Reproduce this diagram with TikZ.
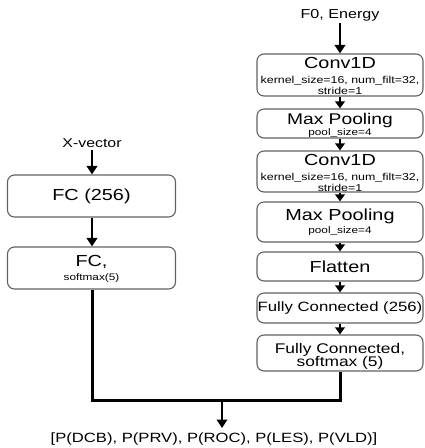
\documentclass[tikz,border=0pt]{standalone}
\usepackage{fontspec}
\setmainfont{Liberation Sans}[FakeStretch=1.24]
\usetikzlibrary{arrows.meta}
\newcommand\fsz[1]{\fontsize{#1}{#1}\selectfont}
\begin{document}
\begin{tikzpicture}[x=1pt,y=1pt,
  box/.style={draw=black!62, line width=1.1pt, rounded corners=7pt, inner sep=0pt, minimum width=166pt},
  lbox/.style={box, minimum width=168pt},
  bigarrow/.style={line width=2.8pt, -{Triangle[length=8.5pt,width=10.5pt]}},
  smallarrow/.style={line width=1.8pt, -{Triangle[length=7pt,width=9.5pt]}},
  merge/.style={line width=3pt},
  txt/.style={inner sep=0pt, anchor=base},
  lbl/.style={inner sep=2pt}]
\useasboundingbox (0,0) rectangle (424,-448);
% right column boxes
\node[box, minimum height=42pt] (conv1) at (340,-75) {};
\node[box, minimum height=29pt] (mp1) at (340,-123.5) {};
\node[box, minimum height=41pt] (conv2) at (340,-171.5) {};
\node[box, minimum height=40pt] (mp2) at (340,-222) {};
\node[box, minimum height=29pt, font=\fsz{16}] (flat) at (340,-266.5) {Flatten};
\node[box, minimum height=30pt, font=\fsz{13.5}] (fc256) at (340,-308) {Fully Connected (256)};
\node[box, minimum height=36pt] (fin) at (340,-353) {};
% right column texts
\node[lbl, font=\fsz{13}] (f0) at (340,-15) {F0, Energy};
\node[txt, font=\fsz{16}] at (340,-68) {Conv1D};
\node[txt, font=\fsz{10}] at (340,-83.5) {kernel\_size=16, num\_filt=32,};
\node[txt, font=\fsz{10}] at (340,-94) {stride=1};
\node[txt, font=\fsz{15.5}] at (340,-124.5) {Max Pooling};
\node[txt, font=\fsz{9.5}] at (340,-135) {pool\_size=4};
\node[txt, font=\fsz{16}] at (340,-165) {Conv1D};
\node[txt, font=\fsz{10}] at (340,-180.5) {kernel\_size=16, num\_filt=32,};
\node[txt, font=\fsz{10}] at (340,-191) {stride=1};
\node[txt, font=\fsz{16}] at (340,-220) {Max Pooling};
\node[txt, font=\fsz{9.5}] at (340,-233) {pool\_size=4};
\node[txt, font=\fsz{14}] at (340,-353.5) {Fully Connected,};
\node[txt, font=\fsz{14}] at (340,-366.5) {softmax (5)};
% left column
\node[lbl, font=\fsz{12.8}] (xv) at (92,-143) {X-vector};
\node[lbox, minimum height=42pt, font=\fsz{16}] (lfc1) at (91.5,-196) {FC (256)};
\node[lbox, minimum height=42pt] (lfc2) at (91.5,-268) {};
\node[txt, font=\fsz{16}] at (91.5,-266) {FC,};
\node[txt, font=\fsz{9.5}] at (91.5,-280) {softmax(5)};
% output
\coordinate (m) at (222,-400);
\coordinate (tip) at (222,-428);
\node[txt, font=\fsz{13.4}] (out) at (214,-442.5) {[P(DCB), P(PRV), P(ROC), P(LES), P(VLD)]};
% connectors
\draw[bigarrow] (f0) -- (conv1);
\draw[smallarrow] (conv1) -- (mp1);
\draw[smallarrow] (mp1) -- (conv2);
\draw[smallarrow] (conv2) -- (mp2);
\draw[smallarrow] (mp2) -- (flat);
\draw[smallarrow] (flat) -- (fc256);
\draw[smallarrow] (fc256) -- (fin);
\draw[bigarrow] (xv) -- (xv |- lfc1.north);
\draw[bigarrow] (lfc1.south -| xv) -- (xv |- lfc2.north);
\draw[merge] (lfc2.south -| xv) |- (m) -| (fin.south);
\draw[bigarrow] (m) -- (tip);
\end{tikzpicture}
\end{document}
